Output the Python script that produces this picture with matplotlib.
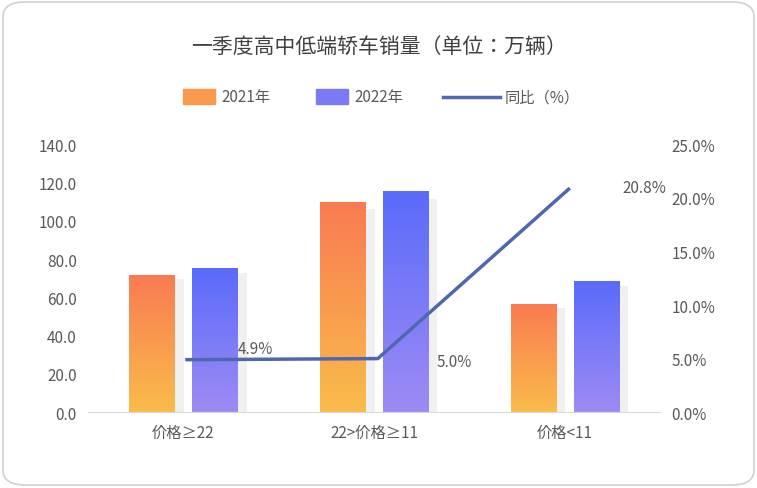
import matplotlib.pyplot as plt
import numpy as np
from matplotlib import font_manager
from matplotlib.patches import FancyBboxPatch
from matplotlib.colors import LinearSegmentedColormap
from matplotlib.ticker import FuncFormatter

cjk = [f.name for f in font_manager.fontManager.ttflist if "CJK" in f.name]
cjk_pref = [n for n in ["Noto Sans CJK SC", "Noto Sans CJK JP", "Noto Sans CJK TC"] if n in cjk]
plt.rcParams["font.family"] = "sans-serif"
plt.rcParams["font.sans-serif"] = (cjk_pref or cjk[:1]) + ["DejaVu Sans"]

CATEGORIES = ["价格≥22", "22>价格≥11", "价格<11"]
SALES_2021 = [71.5, 109.5, 56.0]
SALES_2022 = [75.0, 115.0, 68.0]
YOY = [4.9, 5.0, 20.8]
YOY_LABELS = ["4.9%", "5.0%", "20.8%"]

GRAY = "#595959"
LINE_C = "#4F67B0"
CMAP_21 = LinearSegmentedColormap.from_list("c21", ["#F9BC4A", "#FA7B52"])
CMAP_22 = LinearSegmentedColormap.from_list("c22", ["#9E8BF4", "#5A6BFA"])

fig = plt.figure(figsize=(7.57, 4.89), dpi=100)
fig.patches.append(FancyBboxPatch((0.004, 0.006), 0.992, 0.988,
                                  boxstyle="round,pad=0,rounding_size=0.03",
                                  transform=fig.transFigure, fc="white",
                                  ec="#D0D0D0", lw=1.2, zorder=-1))
ax = fig.add_axes([0.116, 0.155, 0.756, 0.548])
ax.patch.set_alpha(0)

x = np.arange(len(CATEGORIES))
w = 0.236
grad = np.linspace(0, 1, 256).reshape(-1, 1)
for vals, off, cmap in [(SALES_2021, -0.165, CMAP_21), (SALES_2022, 0.165, CMAP_22)]:
    for xi, v in zip(x, vals):
        # soft shadow
        ax.bar(xi + off + 0.05, v * 0.97, w, bottom=0, color="#000000",
               alpha=0.06, zorder=1, lw=0)
        ax.imshow(grad, extent=(xi + off - w / 2, xi + off + w / 2, 0, v),
                  origin="lower", cmap=cmap, aspect="auto", zorder=2)

ax.set_xlim(-0.5, 2.5)
ax.set_ylim(0, 140)
ax.set_yticks(np.arange(0, 141, 20))
ax.yaxis.set_major_formatter(FuncFormatter(lambda v, p: f"{v:.1f}"))
ax.set_xticks(x)
ax.set_xticklabels(CATEGORIES)
ax.tick_params(colors=GRAY, labelsize=11, length=0, pad=8)
for s in ["top", "right", "left"]:
    ax.spines[s].set_visible(False)
ax.spines["bottom"].set_color("#D9D9D9")

ax2 = ax.twinx()
ax2.plot(x + 0.02, YOY, color=LINE_C, lw=2.5, zorder=5)
ax2.set_ylim(0, 25)
ax2.set_yticks(np.arange(0, 26, 5))
ax2.yaxis.set_major_formatter(FuncFormatter(lambda v, p: f"{v:.1f}%"))
ax2.tick_params(colors=GRAY, labelsize=11, length=0, pad=8)
for s in ax2.spines.values():
    s.set_visible(False)
label_offsets = [(0.38, 1.0), (0.42, -0.3), (0.42, 0.2)]
for xi, v, t, (dx, dy) in zip(x, YOY, YOY_LABELS, label_offsets):
    ax2.text(xi + dx, v + dy, t, color=GRAY, fontsize=11, ha="center", va="center")

fig.text(0.5, 0.905, "一季度高中低端轿车销量（单位：万辆）", ha="center", va="center",
         fontsize=15, color="#404040")

# legend
lx = [0.242, 0.418, 0.585]
fig.patches.append(plt.Rectangle((lx[0], 0.785), 0.042, 0.03, transform=fig.transFigure,
                                 color="#F99A4E"))
fig.patches.append(plt.Rectangle((lx[1], 0.785), 0.042, 0.03, transform=fig.transFigure,
                                 color="#7A7AF7"))
fig.lines.append(plt.Line2D([lx[2], lx[2] + 0.075], [0.8, 0.8], transform=fig.transFigure,
                            color=LINE_C, lw=2.5))
for px, t in zip([lx[0] + 0.05, lx[1] + 0.05, lx[2] + 0.082], ["2021年", "2022年", "同比（%）"]):
    fig.text(px, 0.8, t, fontsize=11, color=GRAY, va="center")

fig.savefig("out.png", dpi=100)
